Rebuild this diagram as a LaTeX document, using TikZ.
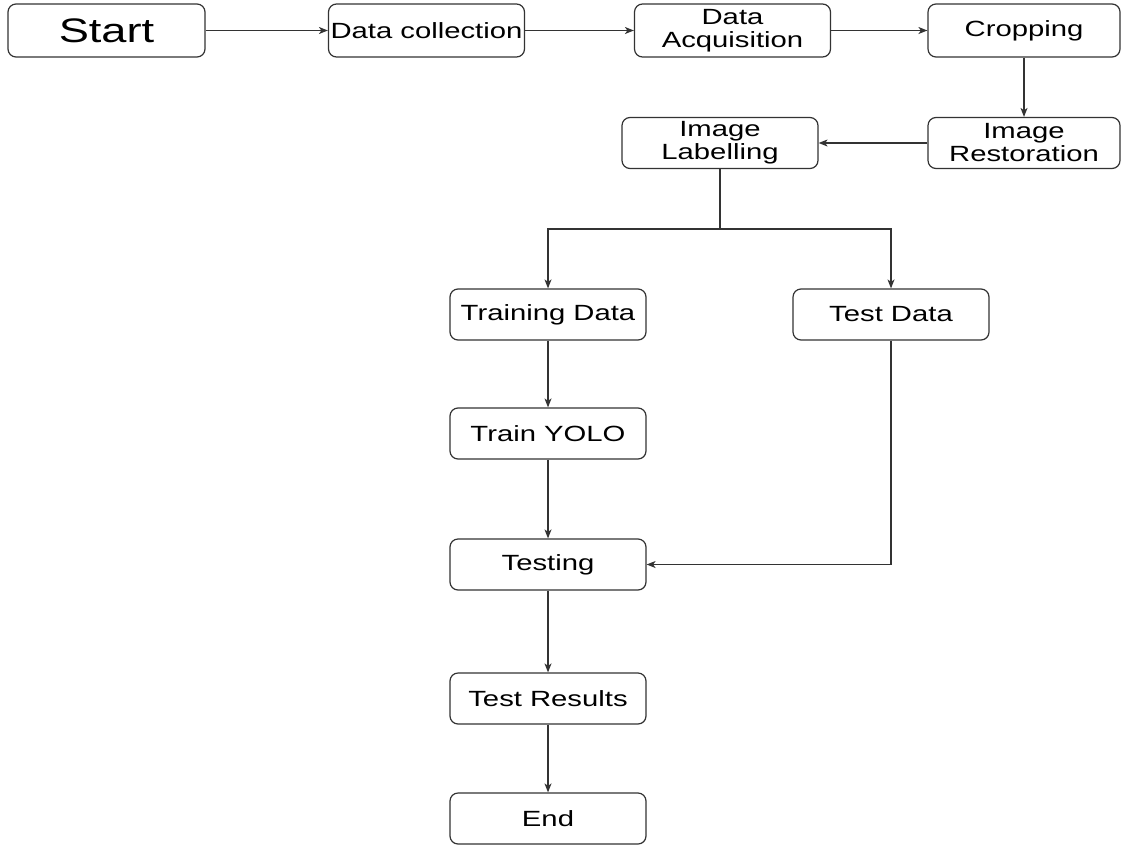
\documentclass[tikz,border=0pt]{standalone}
\usepackage{fontspec}
\setmainfont[FakeStretch=1.33]{Liberation Sans}
\usetikzlibrary{arrows.meta}
\begin{document}
\begin{tikzpicture}[x=1pt,y=-1pt,
					box/.style={draw=black!80, line width=1.2pt, rounded corners=8pt, minimum width=196pt,
						minimum height=51pt, inner sep=0pt, align=center, font=\fontsize{22}{23}\selectfont},
					flow/.style={draw=black!80, line width=1.2pt, -{Stealth[length=9pt,width=7pt,inset=2.5pt]}}]
					\useasboundingbox (0,0) rectangle (1121,846);
					
					% top row
					\node[box, minimum width=197pt, minimum height=53pt, font=\fontsize{34}{36}\selectfont] (start) at (106.5,30.5) {Start};
					\node[box, minimum height=53pt] (collect) at (426.5,30.5) {Data collection};
					\node[box, minimum height=53pt] (acquire) at (732.5,30.5) {Data\\Acquisition};
					\node[box, minimum width=192pt, minimum height=53pt] (crop) at (1024,30.5) {Cropping};
					
					% second row
					\node[box, minimum width=192pt] (restore) at (1024,143) {Image\\Restoration};
					\node[box] (label) at (720,143) {Image\\Labelling};
					
					% split
					\coordinate (split) at (720,229);
					\node[box] (train) at (548,314.5) {Training Data};
					\node[box] (test) at (891,314.5) {Test Data};
					
					% main column
					\node[box] (yolo) at (548,433.5) {Train YOLO};
					\node[box] (testing) at (548,564.5) {Testing};
					\node[box] (results) at (548,698.5) {Test Results};
					\node[box] (end) at (548,818.5) {End};
					
					\draw[flow] (start) -- (collect);
					\draw[flow] (collect) -- (acquire);
					\draw[flow] (acquire) -- (crop);
					\draw[flow] (crop) -- (restore);
					\draw[flow] (restore) -- (label);
					\draw[draw=black!80, line width=1.2pt] (label) -- (split);
					\draw[flow] (split) -| (train);
					\draw[flow] (split) -| (test);
					\draw[flow] (train) -- (yolo);
					\draw[flow] (yolo) -- (testing);
					\draw[flow] (test) |- (testing);
					\draw[flow] (testing) -- (results);
					\draw[flow] (results) -- (end);
					
				\end{tikzpicture}
\end{document}
